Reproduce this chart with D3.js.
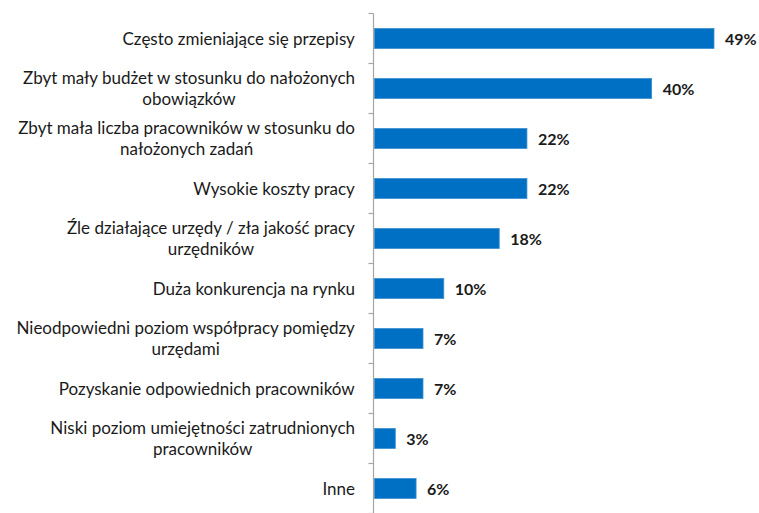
<!DOCTYPE html>
<html>
<head>
<meta charset="utf-8">
<script src="https://cdn.jsdelivr.net/npm/d3@7"></script>
<style>
  html, body { margin: 0; padding: 0; background: #fff; }
  svg { display: block; }
</style>
</head>
<body>
<svg id="chart" width="759" height="513"></svg>
<script>
// Categories (line breaks mark where the label wraps)
const categories = [
  "Często zmieniające się przepisy",
  "Zbyt mały budżet w stosunku do nałożonych\nobowiązków",
  "Zbyt mała liczba pracowników w stosunku do\nnałożonych zadań",
  "Wysokie koszty pracy",
  "Źle działające urzędy / zła jakość pracy\nurzędników",
  "Duża konkurencja na rynku",
  "Nieodpowiedni poziom współpracy pomiędzy\nurzędami",
  "Pozyskanie odpowiednich pracowników",
  "Niski poziom umiejętności zatrudnionych\npracowników",
  "Inne"
];
const values = [49, 40, 22, 22, 18, 10, 7, 7, 3, 6];

const svg = d3.select("#chart");
const axisX = 373.5;
const font = "Lato, 'Open Sans', sans-serif";

const x = d3.scaleLinear().domain([0, 49]).range([axisX + 1, 714]);
const y = d3.scaleBand()
  .domain(categories)
  .range([13.5, 513.5])
  .paddingInner(0.6)
  .paddingOuter(0.3);

const step = y.step();
const y0 = y.range()[0];

// Bars
svg.append("g").selectAll("rect")
  .data(values)
  .join("rect")
  .attr("x", x(0))
  .attr("y", (d, i) => y(categories[i]))
  .attr("width", d => x(d) - x(0))
  .attr("height", y.bandwidth())
  .attr("fill", "#0070C4")
  .attr("stroke", "#3D8FD1")
  .attr("stroke-width", 0.8);

// Value labels
svg.append("g").selectAll("text")
  .data(values)
  .join("text")
  .attr("x", d => x(d) + 11)
  .attr("y", (d, i) => y(categories[i]) + y.bandwidth() / 2)
  .attr("dy", "0.38em")
  .attr("font-family", font)
  .attr("font-weight", "bold")
  .attr("font-size", 16)
  .attr("fill", "#1a1a1a")
  .text(d => d + "%");

// Category axis: vertical line with ticks at band boundaries
const axis = svg.append("g").attr("stroke", "#A6A6A6").attr("stroke-width", 1.2);
axis.append("line")
  .attr("x1", axisX).attr("x2", axisX)
  .attr("y1", y0).attr("y2", y0 + step * categories.length);
axis.selectAll("line.tick")
  .data(d3.range(categories.length + 1))
  .join("line")
  .attr("class", "tick")
  .attr("x1", axisX - 5).attr("x2", axisX)
  .attr("y1", i => y0 + i * step)
  .attr("y2", i => y0 + i * step);

// Category labels: lines centred on each other, block ends next to the axis
const fontSize = 17;
const lineH = 20.5;
const labels = svg.append("g")
  .attr("font-family", font)
  .attr("font-size", fontSize)
  .attr("fill", "#1a1a1a")
  .attr("text-anchor", "middle");

categories.forEach(c => {
  const lines = c.split("\n");
  const cy = y(c) + y.bandwidth() / 2 + 0.36 * fontSize;
  const t = labels.append("text");
  lines.forEach((ln, k) => {
    t.append("tspan")
      .attr("x", 0)
      .attr("y", cy + (k - (lines.length - 1) / 2) * lineH)
      .text(ln);
  });
  const w = t.node().getBBox().width;
  t.attr("transform", `translate(${355 - w / 2},0)`);
});
</script>
</body>
</html>
